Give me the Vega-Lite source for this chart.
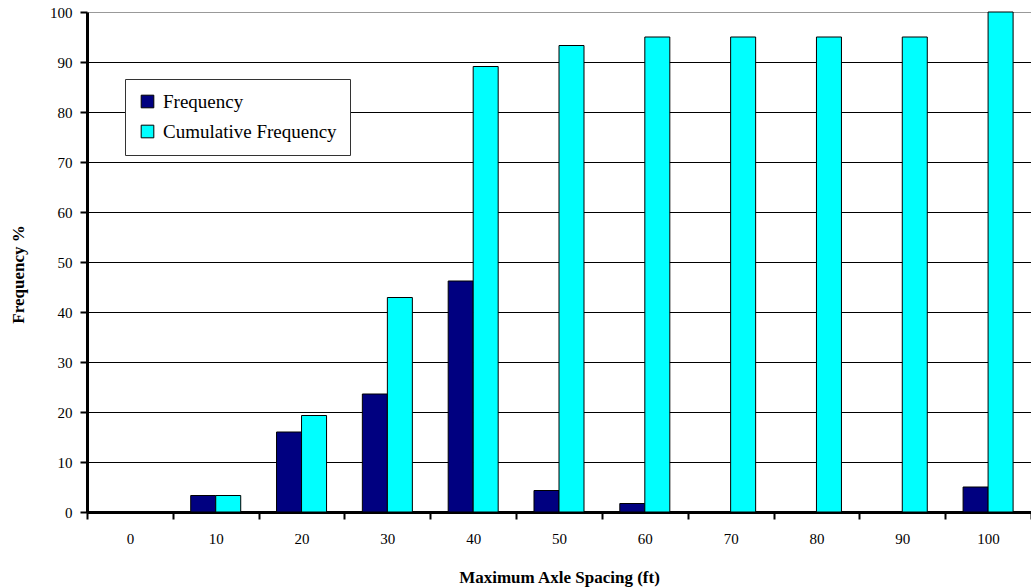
{
  "$schema": "https://vega.github.io/schema/vega-lite/v6.json",
  "width": 944,
  "height": 500,
  "autosize": {"type": "none"},
  "padding": {"left": 87, "top": 12, "right": 0, "bottom": 75},
  "background": "white",
  "config": {"view": {"stroke": null}, "font": "Liberation Serif"},
  "data": {
    "values": [
      {"spacing": "0", "series": "Frequency", "value": 0},
      {"spacing": "0", "series": "Cumulative Frequency", "value": 0},
      {"spacing": "10", "series": "Frequency", "value": 3.3},
      {"spacing": "10", "series": "Cumulative Frequency", "value": 3.3},
      {"spacing": "20", "series": "Frequency", "value": 16},
      {"spacing": "20", "series": "Cumulative Frequency", "value": 19.3},
      {"spacing": "30", "series": "Frequency", "value": 23.6},
      {"spacing": "30", "series": "Cumulative Frequency", "value": 42.9},
      {"spacing": "40", "series": "Frequency", "value": 46.2},
      {"spacing": "40", "series": "Cumulative Frequency", "value": 89.1},
      {"spacing": "50", "series": "Frequency", "value": 4.3},
      {"spacing": "50", "series": "Cumulative Frequency", "value": 93.3},
      {"spacing": "60", "series": "Frequency", "value": 1.7},
      {"spacing": "60", "series": "Cumulative Frequency", "value": 95},
      {"spacing": "70", "series": "Frequency", "value": 0},
      {"spacing": "70", "series": "Cumulative Frequency", "value": 95},
      {"spacing": "80", "series": "Frequency", "value": 0},
      {"spacing": "80", "series": "Cumulative Frequency", "value": 95},
      {"spacing": "90", "series": "Frequency", "value": 0},
      {"spacing": "90", "series": "Cumulative Frequency", "value": 95},
      {"spacing": "100", "series": "Frequency", "value": 5},
      {"spacing": "100", "series": "Cumulative Frequency", "value": 100}
    ]
  },
  "mark": {"type": "bar", "stroke": "black", "strokeWidth": 1},
  "encoding": {
    "x": {
      "field": "spacing",
      "type": "ordinal",
      "sort": ["0","10","20","30","40","50","60","70","80","90","100"],
      "scale": {"paddingInner": 0, "paddingOuter": 0},
      "axis": {
        "title": "Maximum Axle Spacing (ft)",
        "titleFont": "Liberation Serif",
        "titleFontSize": 17,
        "titleFontWeight": "bold",
        "titleColor": "black",
        "titleX": 472,
        "titleY": 65,
        "titleBaseline": "middle",
        "labelAngle": 0,
        "labelFont": "Liberation Serif",
        "labelFontSize": 15,
        "labelColor": "black",
        "labelPadding": 12,
        "tickBand": "extent",
        "tickSize": 7,
        "tickWidth": 2,
        "tickColor": "black",
        "domainColor": "black",
        "domainWidth": 3,
        "grid": false
      }
    },
    "xOffset": {
      "field": "series",
      "type": "nominal",
      "sort": ["Frequency", "Cumulative Frequency"],
      "scale": {"paddingInner": 0, "paddingOuter": 0.716}
    },
    "y": {
      "field": "value",
      "type": "quantitative",
      "scale": {"domain": [0, 100], "nice": false},
      "axis": {
        "title": "Frequency %",
        "titleFont": "Liberation Serif",
        "titleFontSize": 17,
        "titleFontWeight": "bold",
        "titleColor": "black",
        "titleX": -69,
        "titleY": 262,
        "titleAngle": -90,
        "titleAlign": "center",
        "titleBaseline": "middle",
        "values": [0,10,20,30,40,50,60,70,80,90,100],
        "labelFont": "Liberation Serif",
        "labelFontSize": 15,
        "labelColor": "black",
        "labelPadding": 8,
        "tickSize": 7,
        "tickWidth": 2,
        "tickColor": "black",
        "domainColor": "black",
        "domainWidth": 3,
        "grid": true,
        "gridColor": {"condition": {"test": "datum.value == 100", "value": "#999999"}, "value": "black"},
        "gridWidth": 1
      }
    },
    "color": {
      "field": "series",
      "type": "nominal",
      "sort": ["Frequency", "Cumulative Frequency"],
      "scale": {"domain": ["Frequency", "Cumulative Frequency"], "range": ["#000080", "#00FFFF"]},
      "legend": {
        "title": null,
        "orient": "none",
        "legendX": 38,
        "legendY": 67,
        "fillColor": "white",
        "strokeColor": "#333333",
        "padding": 13,
        "rowPadding": 10,
        "symbolType": "square",
        "symbolSize": 160,
        "symbolStrokeColor": "black",
        "symbolStrokeWidth": 1,
        "labelFont": "Liberation Serif",
        "labelFontSize": 19,
        "labelLimit": 400,
        "labelColor": "black",
        "labelOffset": 6,
        "offset": 0
      }
    }
  }
}
